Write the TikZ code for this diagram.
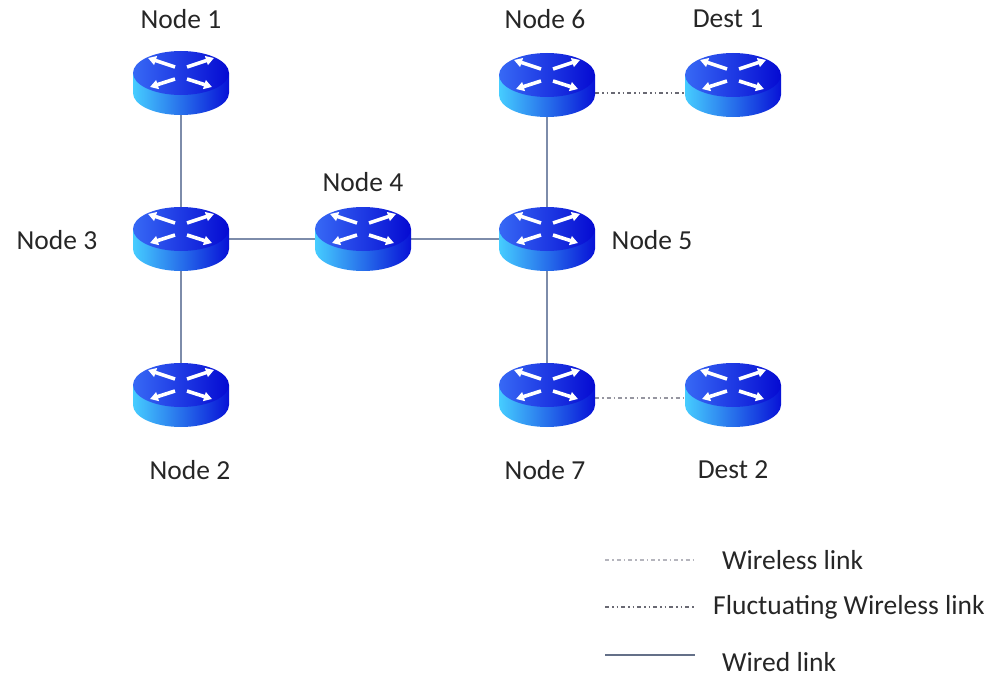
\documentclass[tikz,border=0pt]{standalone}
\usepackage{fontspec}
\setmainfont{Carlito}
\usetikzlibrary{arrows.meta}
\definecolor{rcyan}{RGB}{70,205,255}
\definecolor{rblue}{RGB}{8,18,215}
\definecolor{rtopl}{RGB}{55,105,245}
\definecolor{rtopd}{RGB}{5,10,210}
\definecolor{wirec}{RGB}{125,140,170}
\definecolor{wlc}{RGB}{150,150,160}
\definecolor{flc}{RGB}{105,105,115}
\tikzset{
  routerbox/.style={draw=none, minimum width=96pt, minimum height=64pt, inner sep=0pt},
  lbl/.style={font=\fontsize{27.5}{31}\selectfont, text=black!85, inner sep=0pt},
  leglbl/.style={font=\fontsize{27.5}{31}\selectfont, text=black!85, inner sep=0pt, anchor=west},
  wired/.style={draw=wirec, line width=1.5pt},
  wireless/.style={draw=wlc, line width=1.3pt, dash pattern=on 4pt off 3pt on 1.5pt off 3pt},
  fluct/.style={draw=flc, line width=1.3pt, dash pattern=on 4pt off 3pt on 1.5pt off 3pt on 1.5pt off 3pt},
  rarrow/.style={white, line width=3.6pt, -{Triangle[width=9pt,length=8pt]}},
}
\newcommand\drawrouter[1]{%
  \begin{scope}[shift={(#1.center)}]
    \shade[left color=rcyan, right color=rblue]
      (-48,-10) -- (-48,10) arc[start angle=180, end angle=0, x radius=48, y radius=22] -- (48,-10) -- cycle;
    \shade[left color=rtopl, right color=rtopd] (0,-10) ellipse [x radius=48, y radius=22];
    \draw[rarrow] (-6,-16) -- (-33,-25);
    \draw[rarrow] (6,-16) -- (33,-25);
    \draw[rarrow] (-6,-4) -- (-31,4);
    \draw[rarrow] (6,-4) -- (31,4);
  \end{scope}}
\begin{document}
\begin{tikzpicture}[x=1pt, y=-1pt]
\useasboundingbox (0,0) rectangle (996,677);
% router nodes
\node[routerbox] (n1) at (181,83) {};
\node[routerbox] (n3) at (181,239) {};
\node[routerbox] (n2) at (181,395) {};
\node[routerbox] (n4) at (363,239) {};
\node[routerbox] (n5) at (547,239) {};
\node[routerbox] (n6) at (547,85) {};
\node[routerbox] (d1) at (733,85) {};
\node[routerbox] (n7) at (547,395) {};
\node[routerbox] (d2) at (733,395) {};
% links
\draw[wired] (n1.south) -- (n3.north);
\draw[wired] (n3.south) -- (n2.north);
\draw[wired] (n3.east) -- (n4.west);
\draw[wired] (n4.east) -- (n5.west);
\draw[wired] (n6.south) -- (n5.north);
\draw[wired] (n5.south) -- (n7.north);
\draw[fluct] ([yshift=-8pt]n6.east) -- ([yshift=-8pt]d1.west);
\draw[wireless] ([yshift=-3pt]n7.east) -- ([yshift=-3pt]d2.west);
% routers
\foreach \r in {n1,n2,n3,n4,n5,n6,n7,d1,d2} {\drawrouter{\r}}
% labels
\node[lbl] (t1) at (181,19) {Node 1};
\node[lbl] (t6) at (545,19) {Node 6};
\node[lbl] (td1) at (728,19) {Dest 1};
\node[lbl] (t4) at (363,182) {Node 4};
\node[lbl] (t3) at (57,240) {Node 3};
\node[lbl] (t5) at (652,240) {Node 5};
\node[lbl] (t2) at (190,470) {Node 2};
\node[lbl] (t7) at (545,470) {Node 7};
\node[lbl] (td2) at (733,470) {Dest 2};
% legend
\coordinate (a1) at (605,560); \coordinate (b1) at (695,560);
\coordinate (a2) at (605,607); \coordinate (b2) at (695,607);
\coordinate (a3) at (605,655); \coordinate (b3) at (695,655);
\draw[wireless, draw=wlc!70] (a1) -- (b1);
\draw[fluct] (a2) -- (b2);
\draw[wired, draw=wirec!80!black] (a3) -- (b3);
\node[leglbl] (lg1) at (722,560) {Wireless link};
\node[leglbl] (lg2) at (713,607) {Fluctuating Wireless link};
\node[leglbl] (lg3) at (722,662) {Wired link};
\end{tikzpicture}
\end{document}
